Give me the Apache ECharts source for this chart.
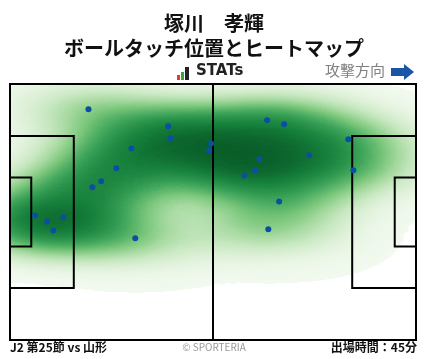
<!DOCTYPE html>
<html><head><meta charset="utf-8">
<script src="https://cdn.jsdelivr.net/npm/echarts@6/dist/echarts.min.js"></script>
<style>
html,body{margin:0;padding:0;background:#fff}
#wrap{position:relative;width:428px;height:359px;overflow:hidden}
#c{position:absolute;left:0;top:0;width:428px;height:359px;z-index:2}
#h{position:absolute;left:10px;top:84px;width:162px;height:256px;z-index:1;transform-origin:0 0}
</style>
</head><body><div id="wrap"><div id="h"></div><div id="c"></div></div>
<script>
// ---- text ----
const playerName = '塚川　孝輝';
const chartTitle = 'ボールタッチ位置とヒートマップ';
const brandLabel = 'STATs';
const directionLabel = '攻撃方向';
const matchLabel = 'J2 第25節 vs 山形';
const creditLabel = '© SPORTERIA';
const minutesLabel = '出場時間：45分';

// ---- ball touch positions (pitch metres, x: 0-105 attacking right, y: 0-68 bottom to top) ----
const touchX = [20.3, 40.9, 41.5, 52.0, 51.5, 31.4, 27.5, 23.6, 21.3, 6.5, 9.6, 13.8, 11.2, 32.4,
                66.5, 70.9, 87.5, 88.8, 77.4, 64.5, 63.4, 60.6, 69.6, 66.8];
const touchY = [61.3, 56.8, 53.6, 52.2, 50.4, 50.9, 45.6, 42.2, 40.6, 33.1, 31.5, 32.6, 29.1, 27.0,
                58.4, 57.3, 53.3, 45.1, 49.1, 48.0, 45.1, 43.7, 36.8, 29.4];

// ---- pitch geometry ----
const PL = 105, PW = 68;
const boxDepth = 16.5, boxWidth = 40.32, goalDepth = 5.5, goalWidth = 18.32;

const G = {left: 10, top: 84, width: 406, height: 256};

echarts.registerMap('pitch', {
  type: 'FeatureCollection',
  features: [{type: 'Feature', properties: {name: 'pitch'},
    geometry: {type: 'Polygon', coordinates: [[[0,0],[PL,0],[PL,PW],[0,PW],[0,0]]]}}]
});

const touches = touchX.map((x, i) => [x, touchY[i], 1]);
const FONT = '"Noto Sans CJK JP", "Noto Sans", sans-serif';

// ---- heat layer: geo heatmap, kernel stretched horizontally ----
const hDom = document.getElementById('h');
const hW = 162;
hDom.style.transform = 'scaleX(' + (G.width / hW) + ')';
const heat = echarts.init(hDom, null, {renderer: 'canvas', width: hW, height: G.height});
heat.setOption({
  animation: false,
  geo: {
    map: 'pitch', roam: false, silent: true,
    left: 0, top: 0, width: hW, height: G.height,
    itemStyle: {areaColor: '#fff', borderWidth: 0},
    label: {show: false},
    emphasis: {disabled: true}
  },
  visualMap: {
    type: 'continuous', show: false, seriesIndex: 0,
    min: 0, max: 1.1, range: [0.016, 1.1],
    inRange: {color: ['#f3faf0','#eaf6e6','#dcf0d6','#c8e8c1','#a7daa1','#78c67a','#3fa65b','#16813c','#00441b']},
    outOfRange: {color: 'rgba(255,255,255,0)'}
  },
  series: [
    {type: 'heatmap', coordinateSystem: 'geo', data: touches,
     pointSize: 22, blurSize: 38, minOpacity: 1, maxOpacity: 1, silent: true}
  ]
});

// ---- main chart ----
const chart = echarts.init(document.getElementById('c'), null, {renderer: 'canvas'});

function pitchRender(params, api) {
  const p = (x, y) => api.coord([x, y]);
  const line = (a, b) => ({type: 'line', shape: {x1: a[0], y1: a[1], x2: b[0], y2: b[1]},
    style: {stroke: '#000', lineWidth: 2}});
  const rect = (x0, y0, x1, y1) => {
    const a = p(x0, y1), b = p(x1, y0);
    return {type: 'rect', shape: {x: a[0], y: a[1], width: b[0]-a[0], height: b[1]-a[1]},
      style: {fill: 'none', stroke: '#000', lineWidth: 2}};
  };
  const by0 = (PW - boxWidth) / 2, by1 = (PW + boxWidth) / 2;
  const gy0 = (PW - goalWidth) / 2, gy1 = (PW + goalWidth) / 2;
  return {type: 'group', children: [
    rect(0, 0, PL, PW),
    line(p(PL/2, 0), p(PL/2, PW)),
    rect(0, by0, boxDepth, by1),
    rect(0, gy0, goalDepth, gy1),
    rect(PL - boxDepth, by0, PL, by1),
    rect(PL - goalDepth, gy0, PL, gy1)
  ]};
}

chart.setOption({
  animation: false,
  title: [
    {text: playerName, left: 'center', top: 8,
     textStyle: {fontFamily: FONT, fontSize: 20, fontWeight: 'bold', color: '#111'}},
    {text: chartTitle, left: 'center', top: 33,
     textStyle: {fontFamily: FONT, fontSize: 20, fontWeight: 'bold', color: '#111'}}
  ],
  grid: {left: G.left, top: G.top, width: G.width, height: G.height},
  xAxis: {type: 'value', min: 0, max: PL, show: false},
  yAxis: {type: 'value', min: 0, max: PW, show: false},
  series: [
    {type: 'custom', coordinateSystem: 'cartesian2d', data: [[0, 0]], renderItem: pitchRender,
     silent: true, z: 5},
    {type: 'scatter', coordinateSystem: 'cartesian2d', data: touches.map(d => [d[0], d[1]]),
     symbolSize: 6, itemStyle: {color: '#0b4fa3', opacity: 1}, silent: true, z: 6}
  ],
  graphic: [
    {type: 'rect', shape: {x: 177, y: 75, width: 3, height: 5}, style: {fill: '#e53935'}},
    {type: 'rect', shape: {x: 181, y: 72, width: 3, height: 8}, style: {fill: '#3aa63a'}},
    {type: 'rect', shape: {x: 185, y: 67, width: 4, height: 13}, style: {fill: '#222'}},
    {type: 'text', left: 196, top: 64,
     style: {text: brandLabel, fontFamily: '"DejaVu Sans", sans-serif', fontWeight: 'bold', fontSize: 15, fill: '#222'}},
    {type: 'text', right: 43, top: 63,
     style: {text: directionLabel, fontFamily: FONT, fontSize: 15, fill: '#808080'}},
    {type: 'polygon', shape: {points: [[391, 68], [404, 68], [404, 64], [414, 72], [404, 80], [404, 76], [391, 76]]},
     style: {fill: '#1a56a6'}},
    {type: 'text', left: 10, top: 341,
     style: {text: matchLabel, fontFamily: FONT, fontWeight: 'bold', fontSize: 12, fill: '#111'}},
    {type: 'text', left: 'center', top: 342,
     style: {text: creditLabel, fontFamily: FONT, fontSize: 10, fill: '#999'}},
    {type: 'text', right: 11, top: 341,
     style: {text: minutesLabel, fontFamily: FONT, fontWeight: 'bold', fontSize: 12, fill: '#111'}}
  ]
});
</script></body></html>
